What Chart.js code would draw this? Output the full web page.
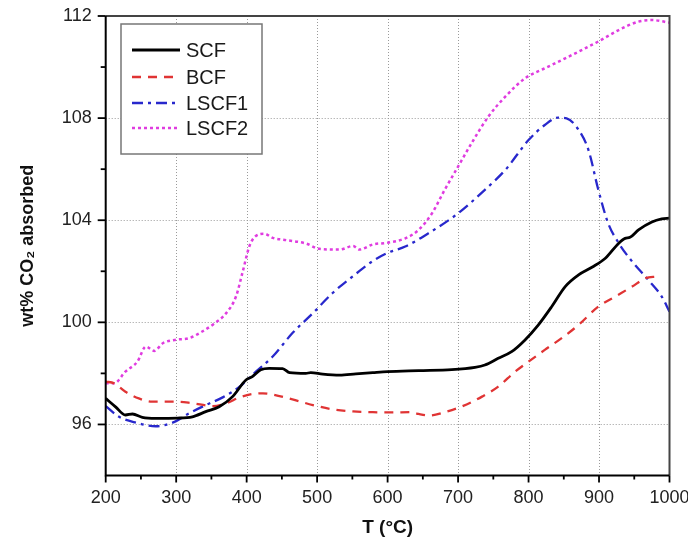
<!DOCTYPE html>
<html>
<head>
<meta charset="utf-8">
<script src="https://cdn.jsdelivr.net/npm/chart.js@4"></script>
<style>
  html, body { margin: 0; padding: 0; background: #fff; }
  canvas { display: block; }
</style>
</head>
<body>
<canvas id="co2Chart" width="688" height="546"></canvas>
<script>
// values
const scfTemp = [200, 214, 228, 238, 252, 271, 302, 323, 342, 361, 380, 399, 408, 420, 432, 451, 461, 484, 491, 508, 532, 555, 579, 600, 644, 691, 724, 738, 757, 776, 795, 814, 833, 852, 871, 890, 909, 928, 937, 944, 956, 975, 989, 1000];
const scfWt = [97.02, 96.69, 96.37, 96.41, 96.28, 96.24, 96.25, 96.3, 96.5, 96.69, 97.09, 97.74, 97.87, 98.14, 98.2, 98.19, 98.03, 98.0, 98.03, 97.97, 97.93, 97.98, 98.03, 98.07, 98.11, 98.15, 98.24, 98.33, 98.59, 98.85, 99.31, 99.9, 100.62, 101.4, 101.86, 102.16, 102.51, 103.1, 103.29, 103.33, 103.62, 103.93, 104.05, 104.08];

const bcfTemp = [200, 212, 228, 247, 266, 302, 323, 352, 371, 390, 408, 423, 437, 465, 494, 522, 551, 579, 603, 634, 644, 658, 681, 705, 734, 757, 781, 800, 823, 847, 871, 899, 923, 947, 966, 982];
const bcfWt = [97.68, 97.61, 97.28, 97.02, 96.89, 96.89, 96.83, 96.72, 96.83, 97.06, 97.19, 97.22, 97.17, 96.98, 96.76, 96.59, 96.51, 96.48, 96.47, 96.48, 96.41, 96.35, 96.48, 96.7, 97.09, 97.48, 98.07, 98.46, 98.92, 99.38, 99.9, 100.62, 101.01, 101.4, 101.73, 101.79];

const lscf1Temp = [200, 219, 243, 271, 295, 318, 342, 366, 390, 408, 437, 465, 494, 522, 551, 579, 600, 625, 658, 700, 738, 767, 800, 823, 842, 854, 871, 885, 899, 913, 928, 947, 970, 989, 1000];
const lscf1Wt = [96.72, 96.3, 96.07, 95.93, 96.07, 96.43, 96.76, 97.06, 97.48, 97.94, 98.66, 99.58, 100.36, 101.15, 101.81, 102.4, 102.72, 102.97, 103.49, 104.27, 105.19, 105.97, 107.14, 107.73, 108.02, 107.99, 107.54, 106.75, 105.19, 103.88, 103.1, 102.38, 101.66, 101.01, 100.42];

const lscf2Temp = [200, 212, 228, 245, 257, 269, 281, 300, 318, 337, 352, 371, 385, 394, 404, 413, 425, 437, 456, 484, 503, 532, 551, 560, 579, 600, 625, 644, 663, 681, 700, 719, 743, 767, 795, 823, 852, 880, 899, 928, 956, 975, 1000];
const lscf2Wt = [97.61, 97.61, 98.07, 98.46, 99.05, 98.88, 99.18, 99.32, 99.38, 99.64, 99.91, 100.36, 101.02, 101.94, 102.99, 103.38, 103.47, 103.31, 103.22, 103.09, 102.88, 102.85, 102.99, 102.85, 103.05, 103.12, 103.29, 103.62, 104.27, 105.19, 106.1, 107.01, 108.06, 108.84, 109.56, 109.95, 110.34, 110.73, 111.0, 111.45, 111.78, 111.84, 111.74];

const seriesNames = ["SCF", "BCF", "LSCF1", "LSCF2"];
const xTicks = [200, 300, 400, 500, 600, 700, 800, 900, 1000];
const xMinorTicks = [250, 350, 450, 550, 650, 750, 850, 950];
const yTicks = [96, 100, 104, 108, 112];
const yMinorTicks = [98, 102, 106, 110];

const FONT = "'Liberation Sans', Arial, sans-serif";

function toPoints(xs, ys) {
  return xs.map((x, i) => ({ x: x, y: ys[i] }));
}

function makeSet(label, xs, ys, color, dash, width) {
  return {
    label: label,
    data: toPoints(xs, ys),
    borderColor: color,
    backgroundColor: color,
    borderWidth: width,
    borderDash: dash,
    pointRadius: 0,
    fill: false,
    cubicInterpolationMode: "monotone",
  };
}

// dotted grid, frame and tick marks drawn by hand
const framePlugin = {
  id: "frame",
  beforeDatasetsDraw(chart) {
    const { ctx, chartArea: a, scales } = chart;
    ctx.save();
    ctx.strokeStyle = "#9a9a9a";
    ctx.lineWidth = 1;
    ctx.setLineDash([1, 2]);
    xTicks.slice(1, -1).forEach((v) => {
      const px = Math.round(scales.x.getPixelForValue(v)) + 0.5;
      ctx.beginPath();
      ctx.moveTo(px, a.top);
      ctx.lineTo(px, a.bottom);
      ctx.stroke();
    });
    yTicks.slice(0, -1).forEach((v) => {
      const py = Math.round(scales.y.getPixelForValue(v)) + 0.5;
      ctx.beginPath();
      ctx.moveTo(a.left, py);
      ctx.lineTo(a.right, py);
      ctx.stroke();
    });
    ctx.restore();
  },
  afterDatasetsDraw(chart) {
    const { ctx, chartArea: a, scales } = chart;
    ctx.save();
    ctx.setLineDash([]);
    ctx.strokeStyle = "#444";
    ctx.lineWidth = 2;
    ctx.beginPath();
    ctx.moveTo(a.left, a.top);
    ctx.lineTo(a.right, a.top);
    ctx.lineTo(a.right, a.bottom);
    ctx.stroke();

    ctx.strokeStyle = "#000";
    ctx.beginPath();
    ctx.moveTo(a.left, a.top);
    ctx.lineTo(a.left, a.bottom);
    ctx.lineTo(a.right, a.bottom);
    ctx.stroke();

    ctx.lineWidth = 1.8;
    const tickX = (v, len) => {
      const px = scales.x.getPixelForValue(v);
      ctx.beginPath();
      ctx.moveTo(px, a.bottom);
      ctx.lineTo(px, a.bottom + len);
      ctx.stroke();
    };
    const tickY = (v, len) => {
      const py = scales.y.getPixelForValue(v);
      ctx.beginPath();
      ctx.moveTo(a.left, py);
      ctx.lineTo(a.left - len, py);
      ctx.stroke();
    };
    xTicks.forEach((v) => tickX(v, 7));
    xMinorTicks.forEach((v) => tickX(v, 4));
    yTicks.forEach((v) => tickY(v, 8));
    yMinorTicks.forEach((v) => tickY(v, 5));
    ctx.restore();
  },
  afterDraw(chart) {
    // legend box in the top-left corner of the plot
    const { ctx } = chart;
    const box = { x: 121, y: 24, w: 141, h: 130 };
    ctx.save();
    ctx.fillStyle = "#fff";
    ctx.fillRect(box.x, box.y, box.w, box.h);
    ctx.strokeStyle = "#777";
    ctx.lineWidth = 1.5;
    ctx.strokeRect(box.x, box.y, box.w, box.h);
    const rows = [50, 77, 103, 128];
    chart.data.datasets.forEach((ds, i) => {
      ctx.strokeStyle = ds.borderColor;
      ctx.lineWidth = ds.borderWidth;
      ctx.setLineDash(ds.borderDash);
      ctx.beginPath();
      ctx.moveTo(132, rows[i]);
      ctx.lineTo(180, rows[i]);
      ctx.stroke();
      ctx.setLineDash([]);
      ctx.fillStyle = "#1a1a1a";
      ctx.font = "20px " + FONT;
      ctx.textBaseline = "middle";
      ctx.textAlign = "left";
      ctx.fillText(ds.label, 186, rows[i] + 1);
    });
    ctx.restore();
  },
};

const ctx = document.getElementById("co2Chart").getContext("2d");

new Chart(ctx, {
  type: "line",
  data: {
    datasets: [
      makeSet(seriesNames[0], scfTemp, scfWt, "#000000", [], 2.8),
      makeSet(seriesNames[1], bcfTemp, bcfWt, "#e03434", [9, 7], 2.3),
      makeSet(seriesNames[2], lscf1Temp, lscf1Wt, "#2828cc", [11, 5, 3, 5], 2.3),
      makeSet(seriesNames[3], lscf2Temp, lscf2Wt, "#e03ce0", [3, 3], 2.5),
    ],
  },
  options: {
    responsive: false,
    animation: false,
    devicePixelRatio: 1,
    layout: { padding: { left: 0, right: 18.5, top: 16, bottom: 0 } },
    plugins: {
      legend: { display: false },
      tooltip: { enabled: false },
    },
    scales: {
      x: {
        type: "linear",
        min: 200,
        max: 1000,
        grid: { display: false, drawTicks: false },
        border: { display: false },
        afterBuildTicks: (scale) => {
          scale.ticks = xTicks.map((v) => ({ value: v }));
        },
        afterFit: (scale) => {
          scale.height = 70.5;
          scale.paddingLeft = 0;
          scale.paddingRight = 0;
        },
        ticks: {
          autoSkip: false,
          maxRotation: 0,
          padding: 12,
          color: "#222",
          font: { family: FONT, size: 18 },
          callback: (v) => String(v),
        },
        title: {
          display: true,
          text: "T (°C)",
          color: "#111",
          font: { family: FONT, size: 19, weight: "bold" },
          padding: { top: 0, bottom: 7 },
        },
      },
      y: {
        type: "linear",
        min: 94,
        max: 112,
        grid: { display: false, drawTicks: false },
        border: { display: false },
        afterBuildTicks: (scale) => {
          scale.ticks = yTicks.map((v) => ({ value: v }));
        },
        afterFit: (scale) => {
          scale.width = 105.7;
          scale.paddingTop = 0;
          scale.paddingBottom = 0;
        },
        ticks: {
          padding: 14,
          color: "#222",
          font: { family: FONT, size: 18 },
          callback: (v) => String(v),
        },
        title: {
          display: true,
          text: "wt% CO\u2082 absorbed",
          color: "#111",
          font: { family: FONT, size: 18, weight: "bold" },
          padding: { top: 17, bottom: 0 },
        },
      },
    },
  },
  plugins: [framePlugin],
});
</script>
</body>
</html>
